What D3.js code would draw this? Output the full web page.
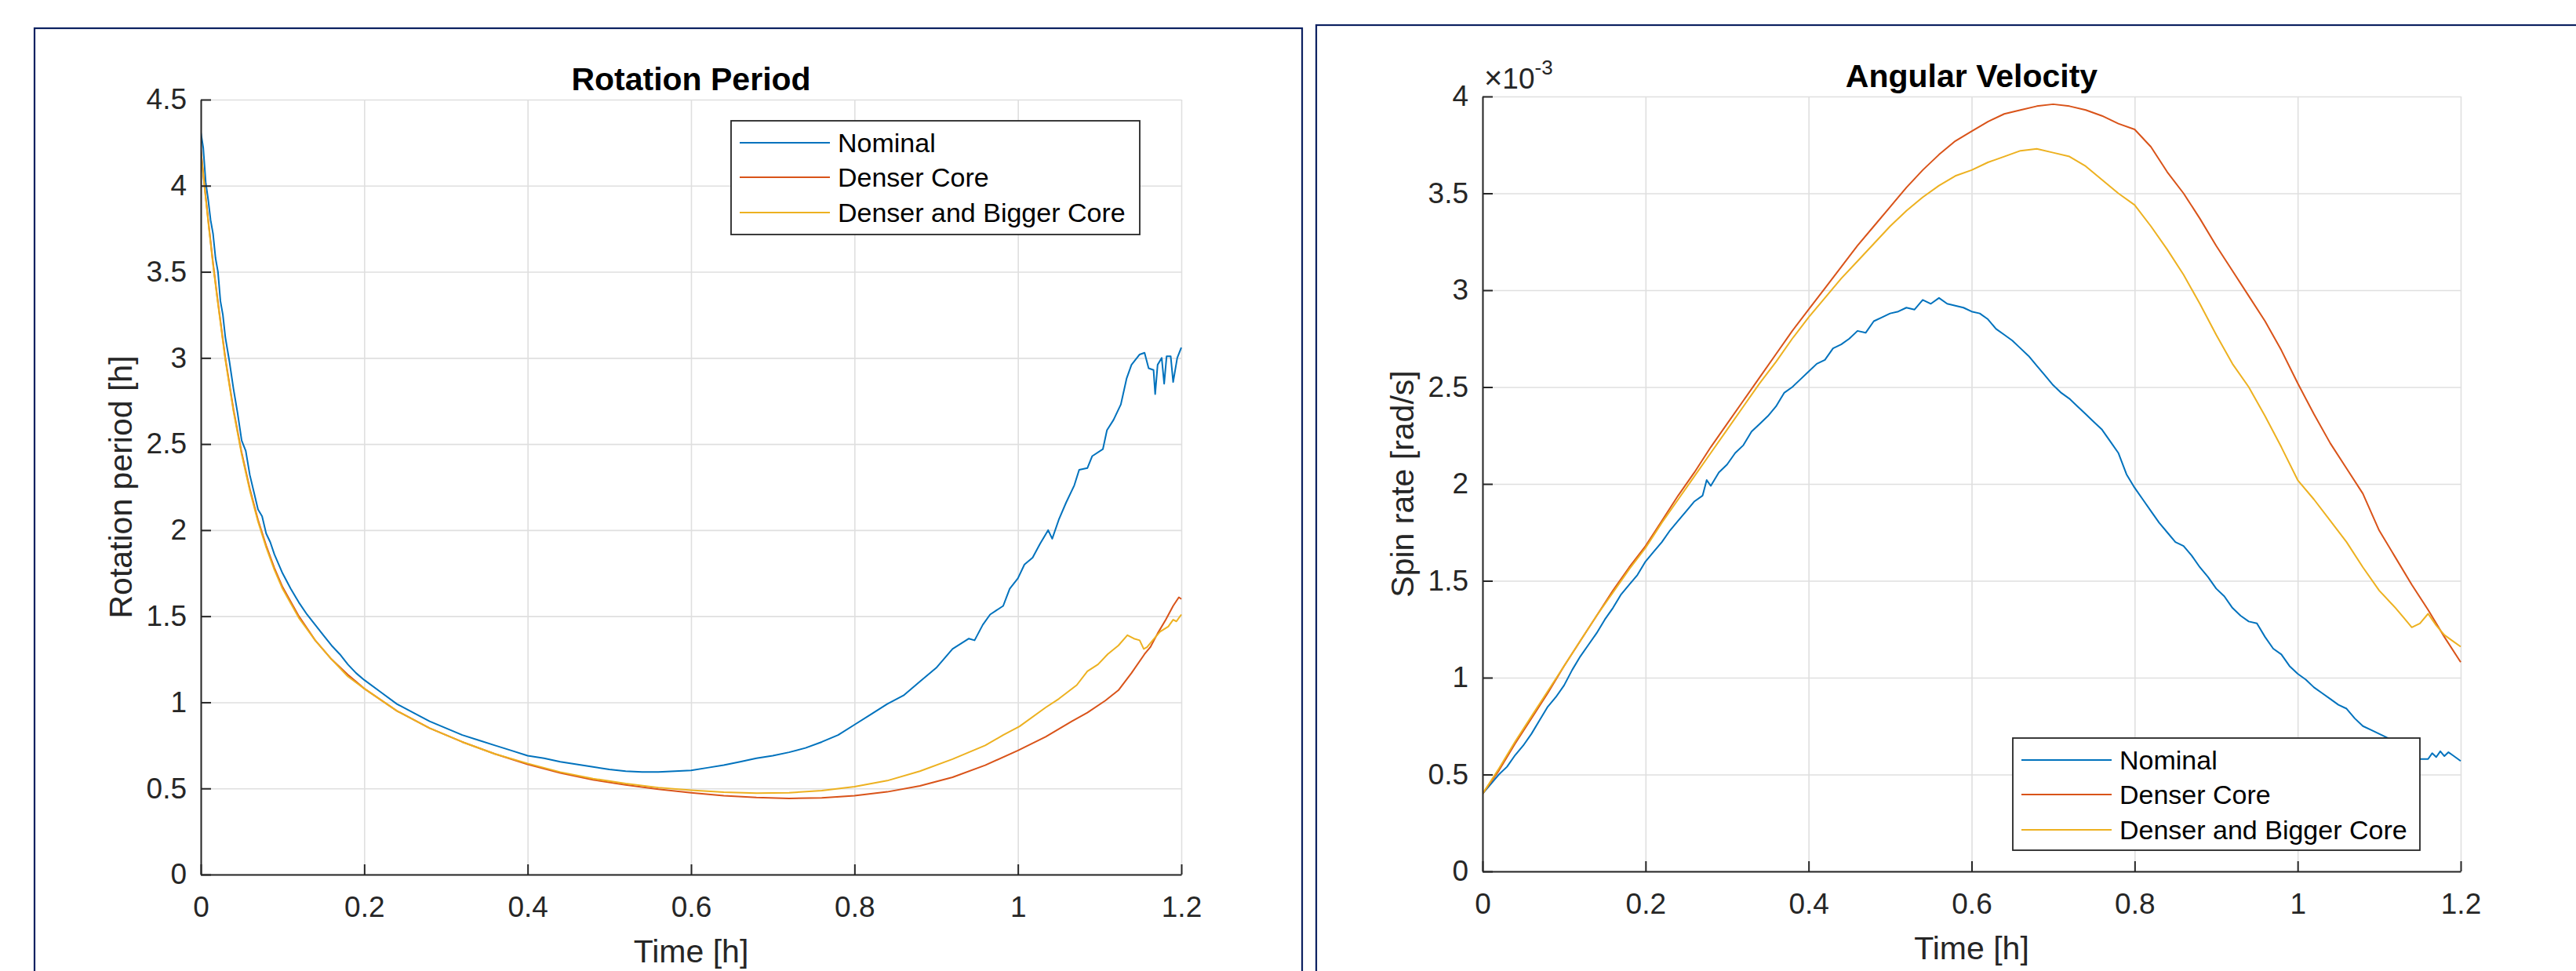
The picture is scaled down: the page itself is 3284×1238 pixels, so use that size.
<!DOCTYPE html>
<html>
<head>
<meta charset="utf-8">
<script src="https://cdn.jsdelivr.net/npm/d3@7/dist/d3.min.js"></script>
<style>
  body { margin: 0; background: #fff; }
  svg { display: block; font-family: "Liberation Sans", Arial, Helvetica, sans-serif; }
</style>
</head>
<body>
<script>
// series names and colours (MATLAB default order)
var seriesNames = ['Nominal', 'Denser Core', 'Denser and Bigger Core'];
var seriesColors = ['#0072BD', '#D95319', '#EDB120'];

var timeTicks = [0, 0.2, 0.4, 0.6, 0.8, 1, 1.2];
var periodTicks = [0, 0.5, 1, 1.5, 2, 2.5, 3, 3.5, 4, 4.5];
var spinTicks = [0, 0.5, 1, 1.5, 2, 2.5, 3, 3.5, 4];

// rotation period [h] vs time [h] as [t, value]
var periodNominal = [
  [0, 4.31], [0.003, 4.22], [0.006, 4.02], [0.009, 3.92], [0.012, 3.80], [0.015, 3.72],
  [0.018, 3.58], [0.021, 3.50], [0.024, 3.33], [0.027, 3.25], [0.03, 3.12], [0.035, 2.98],
  [0.04, 2.82], [0.045, 2.68], [0.05, 2.52], [0.055, 2.46], [0.06, 2.32], [0.065, 2.22],
  [0.07, 2.12], [0.075, 2.08], [0.08, 1.98], [0.085, 1.93], [0.09, 1.86], [0.1, 1.75],
  [0.11, 1.66], [0.12, 1.58], [0.13, 1.51], [0.14, 1.45], [0.15, 1.39], [0.16, 1.33],
  [0.17, 1.28], [0.18, 1.22], [0.19, 1.17], [0.2, 1.13], [0.22, 1.06], [0.24, 0.99],
  [0.26, 0.94], [0.28, 0.89], [0.30, 0.85], [0.32, 0.81], [0.34, 0.78], [0.36, 0.75],
  [0.38, 0.72], [0.40, 0.69], [0.42, 0.675], [0.44, 0.655], [0.46, 0.64], [0.48, 0.625],
  [0.50, 0.61], [0.52, 0.60], [0.54, 0.595], [0.56, 0.595], [0.58, 0.60], [0.60, 0.605],
  [0.62, 0.62], [0.64, 0.635], [0.66, 0.655], [0.68, 0.675], [0.70, 0.69], [0.72, 0.71],
  [0.74, 0.735], [0.76, 0.77], [0.78, 0.81], [0.80, 0.87], [0.82, 0.93], [0.84, 0.99],
  [0.86, 1.04], [0.88, 1.12], [0.90, 1.20], [0.92, 1.31], [0.94, 1.37], [0.947, 1.36],
  [0.957, 1.45], [0.966, 1.51], [0.982, 1.56], [0.99, 1.66], [1.0, 1.72], [1.008, 1.80],
  [1.018, 1.84], [1.027, 1.92], [1.037, 2.00], [1.042, 1.95], [1.05, 2.06], [1.059, 2.16],
  [1.069, 2.26], [1.075, 2.35], [1.085, 2.36], [1.091, 2.43], [1.104, 2.47], [1.109, 2.58],
  [1.117, 2.64], [1.126, 2.73], [1.133, 2.88], [1.139, 2.96], [1.149, 3.02], [1.155, 3.03],
  [1.16, 2.94], [1.166, 2.93], [1.168, 2.79], [1.171, 2.96], [1.176, 3.0], [1.179, 2.85],
  [1.182, 3.01], [1.187, 3.01], [1.19, 2.86], [1.195, 3.0], [1.2, 3.06]
];
var periodDenser = [
  [0, 4.21], [0.005, 3.98], [0.01, 3.76], [0.015, 3.55], [0.02, 3.36], [0.03, 3.00],
  [0.04, 2.70], [0.05, 2.45], [0.06, 2.24], [0.07, 2.06], [0.08, 1.91], [0.09, 1.78],
  [0.10, 1.67], [0.12, 1.50], [0.14, 1.36], [0.16, 1.25], [0.18, 1.16], [0.20, 1.08],
  [0.24, 0.95], [0.28, 0.85], [0.32, 0.77], [0.36, 0.70], [0.40, 0.64], [0.44, 0.59],
  [0.48, 0.55], [0.52, 0.52], [0.56, 0.495], [0.60, 0.475], [0.64, 0.458], [0.68, 0.447],
  [0.72, 0.442], [0.76, 0.445], [0.80, 0.458], [0.84, 0.48], [0.88, 0.515], [0.92, 0.565],
  [0.96, 0.635], [1.00, 0.72], [1.034, 0.80], [1.066, 0.89], [1.085, 0.94], [1.107, 1.01],
  [1.123, 1.07], [1.139, 1.17], [1.155, 1.28], [1.162, 1.32], [1.171, 1.40], [1.181, 1.48],
  [1.19, 1.56], [1.197, 1.61], [1.2, 1.60]
];
var periodBigger = [
  [0, 4.20], [0.005, 3.97], [0.01, 3.75], [0.015, 3.54], [0.02, 3.35], [0.03, 2.99],
  [0.04, 2.69], [0.05, 2.44], [0.06, 2.23], [0.07, 2.05], [0.08, 1.90], [0.09, 1.77],
  [0.10, 1.66], [0.12, 1.49], [0.14, 1.36], [0.16, 1.25], [0.18, 1.15], [0.20, 1.08],
  [0.24, 0.95], [0.28, 0.85], [0.32, 0.77], [0.36, 0.70], [0.40, 0.645], [0.44, 0.595],
  [0.48, 0.557], [0.52, 0.528], [0.56, 0.505], [0.60, 0.49], [0.64, 0.478], [0.68, 0.473],
  [0.72, 0.475], [0.76, 0.487], [0.80, 0.51], [0.84, 0.545], [0.88, 0.60], [0.92, 0.67],
  [0.96, 0.75], [0.982, 0.81], [1.002, 0.86], [1.034, 0.97], [1.05, 1.02], [1.072, 1.10],
  [1.085, 1.18], [1.098, 1.22], [1.11, 1.28], [1.123, 1.33], [1.134, 1.39], [1.142, 1.37],
  [1.149, 1.36], [1.154, 1.31], [1.158, 1.32], [1.165, 1.36], [1.174, 1.41], [1.184, 1.44],
  [1.19, 1.48], [1.194, 1.47], [1.2, 1.51]
];

// spin rate [1e-3 rad/s] vs time [h]
var spinNominal = [
  [0, 0.40], [0.01, 0.45], [0.02, 0.50], [0.03, 0.54], [0.04, 0.60], [0.05, 0.65],
  [0.06, 0.71], [0.07, 0.78], [0.08, 0.85], [0.09, 0.90], [0.10, 0.96], [0.11, 1.04],
  [0.12, 1.11], [0.13, 1.17], [0.14, 1.23], [0.15, 1.30], [0.16, 1.36], [0.17, 1.43],
  [0.18, 1.48], [0.19, 1.53], [0.20, 1.60], [0.21, 1.65], [0.22, 1.70], [0.23, 1.76],
  [0.24, 1.81], [0.25, 1.86], [0.26, 1.91], [0.27, 1.94], [0.275, 2.02], [0.28, 1.99],
  [0.29, 2.06], [0.30, 2.10], [0.31, 2.16], [0.32, 2.20], [0.33, 2.27], [0.34, 2.31],
  [0.35, 2.35], [0.36, 2.40], [0.37, 2.47], [0.38, 2.50], [0.39, 2.54], [0.40, 2.58],
  [0.41, 2.62], [0.42, 2.64], [0.43, 2.70], [0.44, 2.72], [0.45, 2.75], [0.46, 2.79],
  [0.47, 2.78], [0.48, 2.84], [0.49, 2.86], [0.50, 2.88], [0.51, 2.89], [0.52, 2.91],
  [0.53, 2.90], [0.54, 2.95], [0.55, 2.93], [0.56, 2.96], [0.57, 2.93], [0.58, 2.92],
  [0.59, 2.91], [0.60, 2.89], [0.61, 2.88], [0.62, 2.85], [0.63, 2.80], [0.64, 2.77],
  [0.65, 2.74], [0.66, 2.70], [0.67, 2.66], [0.68, 2.61], [0.69, 2.56], [0.70, 2.51],
  [0.71, 2.47], [0.72, 2.44], [0.73, 2.40], [0.74, 2.36], [0.75, 2.32], [0.76, 2.28],
  [0.77, 2.22], [0.78, 2.16], [0.79, 2.05], [0.80, 1.98], [0.81, 1.92], [0.82, 1.86],
  [0.83, 1.80], [0.84, 1.75], [0.85, 1.70], [0.86, 1.68], [0.87, 1.63], [0.88, 1.57],
  [0.89, 1.52], [0.90, 1.46], [0.91, 1.42], [0.92, 1.36], [0.93, 1.32], [0.94, 1.29],
  [0.95, 1.28], [0.96, 1.21], [0.97, 1.15], [0.98, 1.12], [0.99, 1.06], [1.00, 1.02],
  [1.01, 0.99], [1.02, 0.95], [1.03, 0.92], [1.04, 0.89], [1.05, 0.86], [1.06, 0.84],
  [1.07, 0.79], [1.08, 0.75], [1.09, 0.73], [1.10, 0.71], [1.11, 0.69], [1.12, 0.66],
  [1.13, 0.62], [1.14, 0.60], [1.15, 0.58], [1.16, 0.58], [1.165, 0.61], [1.17, 0.59],
  [1.175, 0.62], [1.18, 0.595], [1.185, 0.615], [1.19, 0.60], [1.2, 0.57]
];
var spinDenser = [
  [0, 0.40], [0.02, 0.52], [0.04, 0.66], [0.06, 0.79], [0.08, 0.92], [0.10, 1.06],
  [0.12, 1.19], [0.14, 1.32], [0.16, 1.45], [0.18, 1.57], [0.20, 1.68], [0.22, 1.81],
  [0.24, 1.94], [0.26, 2.06], [0.28, 2.19], [0.30, 2.31], [0.32, 2.43], [0.34, 2.55],
  [0.36, 2.67], [0.38, 2.79], [0.40, 2.90], [0.42, 3.01], [0.44, 3.12], [0.46, 3.23],
  [0.48, 3.33], [0.50, 3.43], [0.52, 3.53], [0.54, 3.62], [0.56, 3.70], [0.58, 3.77],
  [0.60, 3.82], [0.62, 3.87], [0.64, 3.91], [0.66, 3.93], [0.68, 3.95], [0.70, 3.96],
  [0.72, 3.95], [0.74, 3.93], [0.76, 3.90], [0.78, 3.86], [0.80, 3.83], [0.82, 3.74],
  [0.84, 3.61], [0.86, 3.50], [0.88, 3.37], [0.90, 3.23], [0.92, 3.10], [0.94, 2.97],
  [0.96, 2.84], [0.98, 2.69], [1.00, 2.52], [1.02, 2.36], [1.04, 2.21], [1.06, 2.08],
  [1.08, 1.95], [1.10, 1.76], [1.12, 1.62], [1.14, 1.48], [1.16, 1.35], [1.18, 1.21],
  [1.2, 1.08]
];
var spinBigger = [
  [0, 0.40], [0.02, 0.53], [0.04, 0.67], [0.06, 0.80], [0.08, 0.93], [0.10, 1.06],
  [0.12, 1.19], [0.14, 1.32], [0.16, 1.44], [0.18, 1.56], [0.20, 1.67], [0.22, 1.80],
  [0.24, 1.92], [0.26, 2.04], [0.28, 2.16], [0.30, 2.28], [0.32, 2.40], [0.34, 2.52],
  [0.36, 2.63], [0.38, 2.75], [0.40, 2.86], [0.42, 2.96], [0.44, 3.06], [0.46, 3.15],
  [0.48, 3.24], [0.50, 3.33], [0.52, 3.41], [0.54, 3.48], [0.56, 3.54], [0.58, 3.59],
  [0.60, 3.62], [0.62, 3.66], [0.64, 3.69], [0.66, 3.72], [0.68, 3.73], [0.70, 3.71],
  [0.72, 3.69], [0.74, 3.64], [0.76, 3.57], [0.78, 3.50], [0.80, 3.44], [0.82, 3.33],
  [0.84, 3.21], [0.86, 3.08], [0.88, 2.93], [0.90, 2.77], [0.92, 2.62], [0.94, 2.50],
  [0.96, 2.35], [0.98, 2.19], [1.00, 2.02], [1.02, 1.92], [1.04, 1.81], [1.06, 1.70],
  [1.08, 1.57], [1.10, 1.45], [1.12, 1.36], [1.13, 1.31], [1.14, 1.26], [1.15, 1.28],
  [1.16, 1.33], [1.17, 1.27], [1.18, 1.22], [1.19, 1.19], [1.2, 1.16]
];

var W = 3284, H = 1238;
var axisColor = '#262626';
var gridColor = '#dfdfdf';
var frameColor = '#0c2161';

var svg = d3.select('body').append('svg')
  .attr('width', W)
  .attr('height', H);

svg.append('rect').attr('width', W).attr('height', H).attr('fill', '#fff');

function drawPanel(opts) {
  var frame = opts.frame;
  svg.append('rect')
    .attr('x', frame.x).attr('y', frame.y)
    .attr('width', frame.w).attr('height', frame.h)
    .attr('fill', 'none')
    .attr('stroke', frameColor)
    .attr('stroke-width', 2.2);

  var left = opts.left, top = opts.top, right = opts.right, bottom = opts.bottom;
  var xScale = d3.scaleLinear().domain([0, 1.2]).range([left, right]);
  var yScale = d3.scaleLinear().domain(opts.yDomain).range([bottom, top]);
  var w = right - left, h = bottom - top;

  var g = svg.append('g');

  // grid
  g.append('g')
    .attr('transform', 'translate(0,' + bottom + ')')
    .call(d3.axisBottom(xScale).tickValues(timeTicks).tickSize(-h).tickFormat(''))
    .call(function(s) {
      s.select('.domain').remove();
      s.selectAll('line').attr('stroke', gridColor).attr('stroke-width', 1.6);
    });
  g.append('g')
    .attr('transform', 'translate(' + left + ',0)')
    .call(d3.axisLeft(yScale).tickValues(opts.yTicks).tickSize(-w).tickFormat(''))
    .call(function(s) {
      s.select('.domain').remove();
      s.selectAll('line').attr('stroke', gridColor).attr('stroke-width', 1.6);
    });

  var clipId = 'clip_' + opts.id;
  svg.append('clipPath').attr('id', clipId)
    .append('rect')
    .attr('x', left).attr('y', top - 1)
    .attr('width', w + 1).attr('height', h + 1);

  var line = d3.line()
    .x(function(d) { return xScale(d[0]); })
    .y(function(d) { return yScale(d[1]); });

  g.append('g')
    .attr('clip-path', 'url(#' + clipId + ')')
    .selectAll('path.series')
    .data(opts.series)
    .enter()
    .append('path')
    .attr('class', 'series')
    .attr('d', line)
    .attr('fill', 'none')
    .attr('stroke', function(d, i) { return seriesColors[i]; })
    .attr('stroke-width', 2)
    .attr('stroke-linejoin', 'round');

  // axes (box off, ticks inward)
  var fmt = function(d) { return String(d); };
  g.append('g')
    .attr('transform', 'translate(0,' + bottom + ')')
    .call(d3.axisBottom(xScale).tickValues(timeTicks).tickSizeInner(-13).tickSizeOuter(0)
      .tickPadding(28).tickFormat(fmt))
    .call(styleAxis);
  g.append('g')
    .attr('transform', 'translate(' + left + ',0)')
    .call(d3.axisLeft(yScale).tickValues(opts.yTicks).tickSizeInner(-13).tickSizeOuter(0)
      .tickPadding(18).tickFormat(fmt))
    .call(styleAxis);

  // title and labels
  var cx = (left + right) / 2, cy = (top + bottom) / 2;
  svg.append('text')
    .attr('x', cx).attr('y', top - 12)
    .attr('text-anchor', 'middle')
    .attr('font-size', 41).attr('font-weight', 'bold')
    .attr('fill', '#000')
    .text(opts.title);
  svg.append('text')
    .attr('x', cx).attr('y', bottom + 112)
    .attr('text-anchor', 'middle')
    .attr('font-size', 41)
    .attr('fill', axisColor)
    .text('Time [h]');
  svg.append('text')
    .attr('transform', 'translate(' + (left - 88) + ',' + cy + ') rotate(-90)')
    .attr('text-anchor', 'middle')
    .attr('font-size', 41)
    .attr('fill', axisColor)
    .text(opts.yLabel);

  if (opts.exponent) {
    var ex = svg.append('text')
      .attr('x', left + 2).attr('y', top - 10)
      .attr('font-size', 37)
      .attr('fill', axisColor);
    ex.append('tspan').text('\u00d7').attr('font-size', 40);
    ex.append('tspan').text('10');
    ex.append('tspan').text(opts.exponent).attr('font-size', 26).attr('dy', -18);
  }

  drawLegend(opts.legend);
}

function styleAxis(s) {
  s.select('.domain').attr('stroke', axisColor).attr('stroke-width', 2);
  s.selectAll('.tick line').attr('stroke', axisColor).attr('stroke-width', 2);
  s.selectAll('.tick text')
    .attr('fill', axisColor)
    .attr('font-size', 37)
    .attr('font-family', '"Liberation Sans", Arial, Helvetica, sans-serif');
}

function drawLegend(pos) {
  var lg = svg.append('g').attr('transform', 'translate(' + pos.x + ',' + pos.y + ')');
  lg.append('rect')
    .attr('width', pos.w).attr('height', pos.h)
    .attr('fill', '#fff')
    .attr('stroke', axisColor)
    .attr('stroke-width', 1.8);
  var rowY = [28, 72, 117];
  var rows = lg.selectAll('g.row')
    .data(seriesNames)
    .enter()
    .append('g')
    .attr('class', 'row')
    .attr('transform', function(d, i) { return 'translate(0,' + rowY[i] + ')'; });
  rows.append('line')
    .attr('x1', 11).attr('x2', 126)
    .attr('stroke', function(d, i) { return seriesColors[i]; })
    .attr('stroke-width', 2);
  rows.append('text')
    .attr('x', 136).attr('dy', '0.35em')
    .attr('font-size', 34)
    .attr('fill', '#000')
    .text(function(d) { return d; });
}

drawPanel({
  id: 'period',
  frame: {x: 44, y: 36, w: 1616, h: 1300},
  left: 256, right: 1506, top: 127, bottom: 1115,
  yDomain: [0, 4.5],
  yTicks: periodTicks,
  title: 'Rotation Period',
  yLabel: 'Rotation period [h]',
  series: [periodNominal, periodDenser, periodBigger],
  legend: {x: 932, y: 154, w: 521, h: 145}
});

drawPanel({
  id: 'spin',
  frame: {x: 1678, y: 32, w: 1700, h: 1300},
  left: 1890, right: 3137, top: 123, bottom: 1111,
  yDomain: [0, 4],
  yTicks: spinTicks,
  title: 'Angular Velocity',
  yLabel: 'Spin rate [rad/s]',
  exponent: '-3',
  series: [spinNominal, spinDenser, spinBigger],
  legend: {x: 2566, y: 941, w: 519, h: 143}
});
</script>
</body>
</html>
